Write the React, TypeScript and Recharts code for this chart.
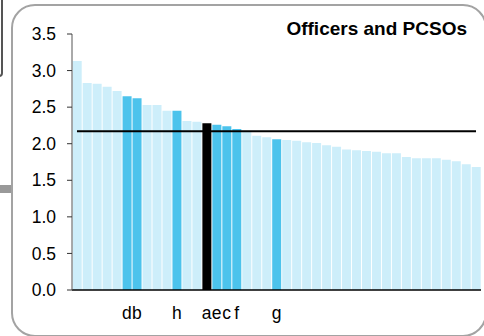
import { Bar, Cell, ComposedChart, Line, XAxis, YAxis } from "recharts";

// forces ranked by officers and PCSOs per 1,000 population
const values = [
  3.13, 2.83, 2.82, 2.78, 2.72, 2.65, 2.62, 2.53, 2.53, 2.45,
  2.45, 2.31, 2.3, 2.28, 2.26, 2.24, 2.2, 2.16, 2.11, 2.09,
  2.06, 2.05, 2.04, 2.02, 2.01, 1.98, 1.96, 1.92, 1.91, 1.9,
  1.89, 1.87, 1.87, 1.82, 1.8, 1.8, 1.8, 1.78, 1.76, 1.72, 1.68,
];

const labels = [
  "", "", "", "", "", "d", "b", "", "", "",
  "h", "", "", "a", "e", "c", "f", "", "", "",
  "g", "", "", "", "", "", "", "", "", "",
  "", "", "", "", "", "", "", "", "", "", "",
];

// 0 = other force, 1 = comparison group, 2 = this force
const groups = [
  0, 0, 0, 0, 0, 1, 1, 0, 0, 0,
  1, 0, 0, 2, 1, 1, 1, 0, 0, 0,
  1, 0, 0, 0, 0, 0, 0, 0, 0, 0,
  0, 0, 0, 0, 0, 0, 0, 0, 0, 0, 0,
];

const average = 2.17;
const yTicks = [0, 0.5, 1, 1.5, 2, 2.5, 3, 3.5];

const colours = ["#cdeefa", "#4cc3ec", "#000000"];

const data = values.map((v, i) => ({ idx: i, value: v, avg: average }));

const font = "'Liberation Sans', Arial, sans-serif";

const App = () => {
  return (
    <div style={{ position: "absolute", left: 0, top: 0, width: 484, height: 336, overflow: "hidden", background: "#fff" }}>
      <div style={{ position: "absolute", left: -20, top: -10, width: 19, height: 83, border: "2px solid #555", borderRadius: 4 }} />
      <div style={{ position: "absolute", left: 0, top: 185, width: 11, height: 8, background: "#999" }} />
      <div style={{ position: "absolute", left: 11, top: 4, width: 476, height: 333, border: "2px solid #a3a3a3", borderRadius: 24, boxSizing: "border-box" }} />
      <div style={{ position: "absolute", left: 0, top: 0 }}>
        <ComposedChart
          width={484}
          height={336}
          data={data}
          margin={{ top: 34, right: 3, bottom: 0, left: 0 }}
          barCategoryGap="7%"
        >
          <XAxis
            dataKey="idx"
            height={46}
            interval={0}
            tickLine={false}
            tickMargin={11}
            axisLine={{ stroke: "#000", strokeWidth: 1.5 }}
            tick={{ fontSize: 17.5, fill: "#000", fontFamily: font }}
            tickFormatter={(v: number) => labels[v]}
          />
          <YAxis
            width={72}
            domain={[0, 3.5]}
            ticks={yTicks}
            tickSize={5}
            tickMargin={11}
            axisLine={{ stroke: "#555" }}
            tickLine={{ stroke: "#333" }}
            tick={{ fontSize: 17.5, fill: "#000", fontFamily: font }}
            tickFormatter={(v: number) => v.toFixed(1)}
          />
          <Bar dataKey="value" isAnimationActive={false}>
            {data.map((d, i) => (
              <Cell key={i} fill={colours[groups[i]]} />
            ))}
          </Bar>
          <Line dataKey="avg" stroke="#000" strokeWidth={2} dot={false} isAnimationActive={false} />
        </ComposedChart>
      </div>
      <div style={{ position: "absolute", right: 17, top: 18, fontFamily: font, fontWeight: "bold", fontSize: 19, color: "#000" }}>
        Officers and PCSOs
      </div>
    </div>
  );
};

export default App;
